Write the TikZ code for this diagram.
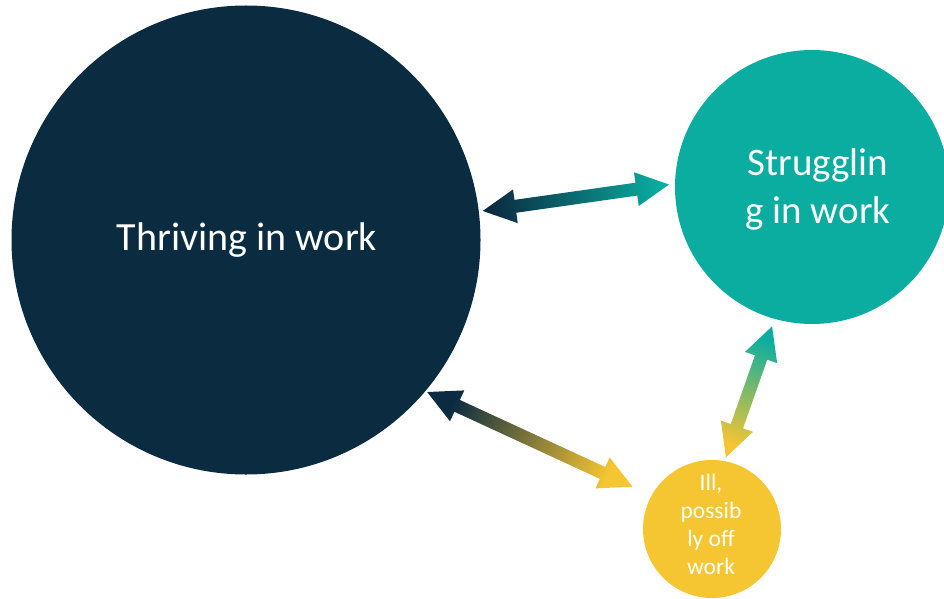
\documentclass[tikz,border=0pt]{standalone}
\usepackage{fontspec}
\setmainfont{Carlito}
\usetikzlibrary{calc}

\definecolor{navy}{HTML}{0B2B41}
\definecolor{tealc}{HTML}{0AADA0}
\definecolor{sun}{HTML}{F6C532}

% double-headed block arrow from #1 to #2, shaded #3 -> #4, #5 = shading angle
\newcommand{\gradarrow}[5]{%
  \path ($(#1)!33pt!(#2)$) coordinate (ga-h1) ($(#2)!33pt!(#1)$) coordinate (ga-h2);
  \shade[bottom color=#3, top color=#4, shading angle=#5]
    (#1) -- ($(ga-h1)!17pt!90:(#2)$) -- ($(ga-h1)!6.5pt!90:(#2)$)
    -- ($(ga-h2)!6.5pt!-90:(#1)$) -- ($(ga-h2)!17pt!-90:(#1)$) -- (#2)
    -- ($(ga-h2)!17pt!90:(#1)$) -- ($(ga-h2)!6.5pt!90:(#1)$)
    -- ($(ga-h1)!6.5pt!-90:(#2)$) -- ($(ga-h1)!17pt!-90:(#2)$) -- cycle;
}

\tikzset{
  bubble/.style={circle, inner sep=0pt, outer sep=0pt, draw=none},
  caption/.style={text=white, align=center, inner sep=0pt}
}

\begin{document}
\begin{tikzpicture}[x=1pt, y=1pt]
  \useasboundingbox (0,0) rectangle (944,-599);
  \clip (0,0) rectangle (944,-599);

  % the three states
  \node[bubble, fill=navy, minimum size=469] (thrive) at (246,-240) {};
  \node[bubble, fill=tealc, minimum size=274] (struggle) at (812,-187) {};
  \node[bubble, fill=sun, minimum size=138] (ill) at (712,-529) {};

  \node[caption, font=\fontsize{40}{48}\selectfont] (thrive-text) at (247,-240) {Thriving in work};
  \node[caption, font=\fontsize{39}{48}\selectfont] (struggle-text) at (818,-189) {Strugglin\\g in work};
  \node[caption, font=\fontsize{23.5}{28}\selectfont] (ill-text) at (711,-524) {Ill,\\possib\\ly off\\work};

  % arrow end points just outside the circles
  \path ($(thrive.7.5)!-4pt!(thrive.center)$) coordinate (ts-a)
        ($(struggle.179.6)!-6pt!(struggle.center)$) coordinate (ts-b)
        ($(thrive.-40.4)!-2pt!(thrive.center)$) coordinate (ti-a)
        ($(ill.152.3)!-21pt!(ill.center)$) coordinate (ti-b)
        ($(ill.79)!-4pt!(ill.center)$) coordinate (is-a)
        ($(struggle.254.8)!-8pt!(struggle.center)$) coordinate (is-b);

  \gradarrow{ts-a}{ts-b}{navy}{tealc}{-83}
  \gradarrow{ti-a}{ti-b}{navy}{sun}{-114}
  \gradarrow{is-a}{is-b}{sun}{tealc}{-20}
\end{tikzpicture}
\end{document}
